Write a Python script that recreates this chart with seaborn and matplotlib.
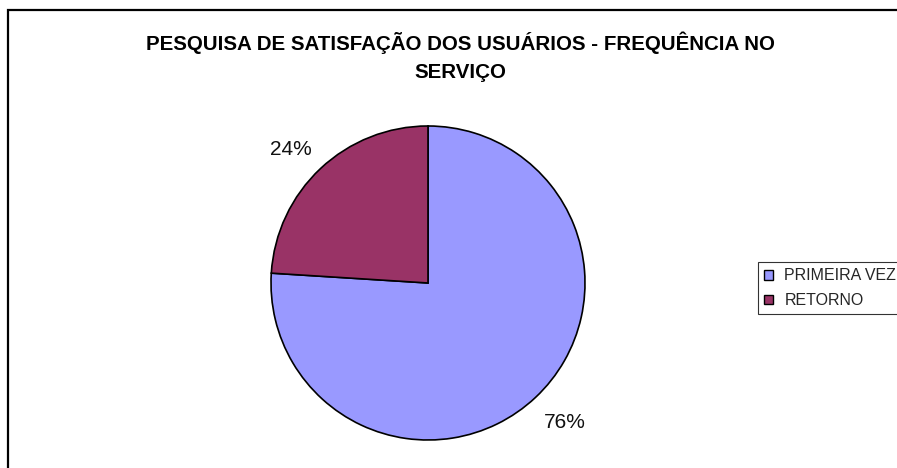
"""Pie chart: frequencia no servico."""

import numpy as np
import matplotlib.pyplot as plt
from matplotlib.patches import Rectangle
import seaborn as sns

categories = ["PRIMEIRA VEZ", "RETORNO"]
shares = [76, 24]
colors = ["#9999FF", "#993366"]
title = "PESQUISA DE SATISFAÇÃO DOS USUÁRIOS - FREQUÊNCIA NO\nSERVIÇO"

sns.set_theme(style="white")
plt.rcParams["font.family"] = ["Liberation Sans", "DejaVu Sans"]

W, H = 897, 468
fig = plt.figure(figsize=(W / 100, H / 100), dpi=100)

# pie axes, centre ~ (428, 283) px, radius ~157 px
cx, cy, r = 428, 283, 157
ax = fig.add_axes([(cx - r) / W, (H - cy - r) / H, 2 * r / W, 2 * r / H])

wedges, _ = ax.pie(
  shares,
  colors=colors,
  startangle=90,
  counterclock=False,
  wedgeprops={"edgecolor": "black", "linewidth": 1.2},
)
ax.set_xlim(-1, 1)
ax.set_ylim(-1, 1)
ax.set_aspect("equal")
ax.axis("off")

# percentage labels just outside each wedge
for w, val in zip(wedges, shares):
  mid = np.deg2rad((w.theta1 + w.theta2) / 2)
  x, y = 1.08 * np.cos(mid), 1.08 * np.sin(mid)
  if y < 0:
    y -= 0.04
  ax.text(
    x, y, f"{val}%",
    ha="right" if x < 0 else "left",
    va="bottom" if y > 0 else "top",
    fontsize=15, color="#111111",
  )

fig.text(
  460 / W, 1 - 31 / H, title,
  ha="center", va="top", fontsize=14.8, fontweight="bold",
  linespacing=1.6, color="black",
)

leg = fig.legend(
  wedges, categories,
  loc="upper left",
  bbox_to_anchor=(758 / W, 1 - 262 / H),
  borderaxespad=0,
  fontsize=11.5,
  handlelength=0.55, handleheight=0.55, handletextpad=0.7,
  borderpad=0.4, labelspacing=0.6,
  frameon=True, fancybox=False,
)
leg.get_frame().set_edgecolor("black")
leg.get_frame().set_linewidth(0.8)
for h in leg.legend_handles:
  h.set_linewidth(1.0)

# outer chart frame (runs off the right and bottom edges)
fig.patches.append(Rectangle(
  (8 / W, -0.05), 1.1, 1 - 10 / H + 0.05,
  transform=fig.transFigure, fill=False,
  edgecolor="black", linewidth=1.6,
))

plt.savefig("out.png", dpi=100)
